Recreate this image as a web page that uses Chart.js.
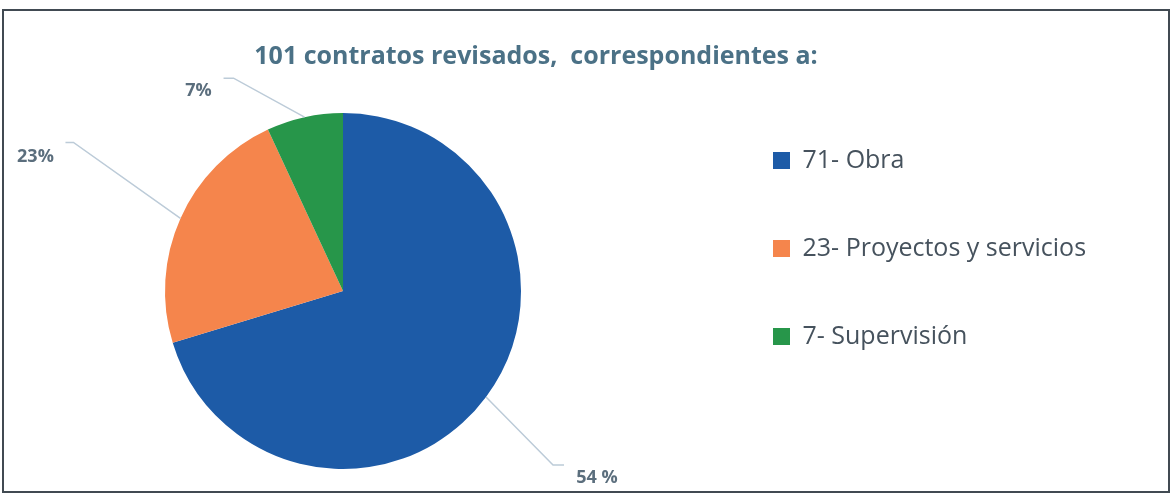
<!DOCTYPE html>
<html>
<head>
<meta charset="utf-8">
<script src="https://cdn.jsdelivr.net/npm/chart.js@4.4.1/dist/chart.umd.min.js"></script>
<style>
    html, body { margin: 0; padding: 0; background: #fff; overflow: hidden; }
    #frame { position: absolute; left: 2px; top: 9px; width: 1164px; height: 480px; border: 2px solid #414a52; }
    #wrap { position: absolute; left: -30px; top: 0; width: 1202px; height: 497px; }
</style>
</head>
<body>
<div id="frame"></div>
<div id="wrap"><canvas id="contratosChart"></canvas></div>
<script>
const categories = ['71- Obra', '23- Proyectos y servicios', '7- Supervisión'];
const contratos = [71, 23, 7];
const pctLabels = ['54 %', '23%', '7%'];
const colores = ['#1d5ba7', '#f5854c', '#27964a'];

// canvas starts 30px left of the page so the pie can sit left of its area centre
const shift = 30;
const canvasW = 1172 + shift;
const legendFont = { family: 'Open Sans', size: 25 };
const legendPad = 63;
const legendBoxX = 773 + shift;
const pieCenterX = 343 + shift;

const mctx = document.createElement('canvas').getContext('2d');
mctx.font = legendFont.size + 'px "' + legendFont.family + '"';
const maxText = Math.max(...categories.map(t => mctx.measureText(t).width));
const legendLeft = legendBoxX - legendPad;
const legendWidth = legendPad + 17 + legendFont.size / 2 + maxText + 10;
const padRight = canvasW - legendLeft - legendWidth;
const padLeft = 2 * pieCenterX - legendLeft;

const leaderLabels = {
    id: 'leaderLabels',
    afterDatasetsDraw(chart, args, opts) {
        const ctx = chart.ctx;
        const meta = chart.getDatasetMeta(0);
        ctx.save();
        meta.data.forEach((arc, i) => {
            const p = arc.getProps(['x', 'y', 'startAngle', 'endAngle', 'outerRadius'], true);
            const mid = (p.startAngle + p.endAngle) / 2;
            const ex = p.x + Math.cos(mid) * p.outerRadius;
            const ey = p.y + Math.sin(mid) * p.outerRadius;
            const g = opts.guides[i];
            const bx = ex + g.dx, by = ey + g.dy;
            ctx.strokeStyle = opts.lineColor;
            ctx.lineWidth = 1.5;
            ctx.beginPath();
            ctx.moveTo(ex, ey);
            ctx.lineTo(bx, by);
            ctx.lineTo(bx + g.tail, by);
            ctx.stroke();
            ctx.fillStyle = opts.color;
            ctx.font = 'bold 18px "Open Sans"';
            ctx.textAlign = 'center';
            ctx.textBaseline = 'middle';
            ctx.fillText(pctLabels[i], bx + g.tx, by + g.ty);
        });
        ctx.restore();
    }
};

const contratosChart = new Chart(document.getElementById('contratosChart'), {
    type: 'pie',
    data: {
        labels: categories,
        datasets: [{
            data: contratos,
            backgroundColor: colores,
            borderWidth: 0,
            radius: 178
        }]
    },
    plugins: [leaderLabels],
    options: {
        responsive: true,
        maintainAspectRatio: false,
        animation: false,
        layout: {
            padding: { left: padLeft, right: padRight, top: 0, bottom: 0 }
        },
        plugins: {
            title: {
                display: true,
                text: '101 contratos revisados,  correspondientes a:',
                color: '#4b7186',
                font: { family: 'Open Sans', size: 25, weight: 'bold' },
                padding: { top: 42, bottom: 13 }
            },
            legend: {
                position: 'right',
                align: 'start',
                fullSize: false,
                labels: {
                    boxWidth: 17,
                    boxHeight: 17,
                    padding: legendPad,
                    color: '#46525d',
                    font: legendFont
                }
            },
            tooltip: { enabled: false },
            leaderLabels: {
                lineColor: '#bccbd8',
                color: '#5b6e7d',
                guides: [
                    { dx: 67, dy: 68, tail: 11, tx: 44, ty: 13 },
                    { dx: -107, dy: -76, tail: -8, tx: -38, ty: 14 },
                    { dx: -71, dy: -39, tail: -10, tx: -35, ty: 13 }
                ]
            }
        }
    }
});
</script>
</body>
</html>
